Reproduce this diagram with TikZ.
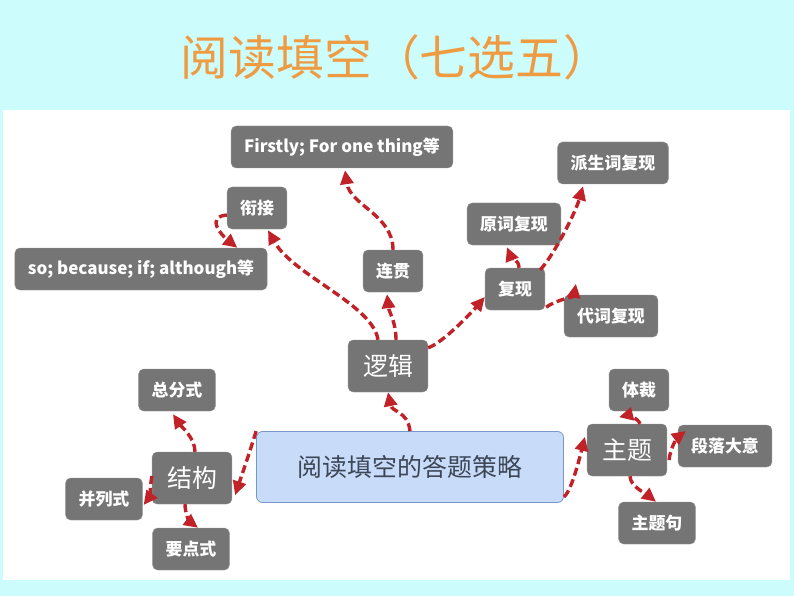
\documentclass[tikz,border=0pt]{standalone}
\usepackage{fontspec}
\setmainfont{Noto Sans CJK SC}
\definecolor{bgCyan}{RGB}{204, 252, 252}
\definecolor{titleOrange}{RGB}{239, 155, 66}
\definecolor{boxGray}{RGB}{117, 117, 117}
\definecolor{hubBlue}{RGB}{200, 220, 250}
\definecolor{hubEdge}{RGB}{120, 150, 200}
\definecolor{hubText}{RGB}{60, 70, 85}
\definecolor{linkRed}{RGB}{192, 34, 40}
\usepackage{tikz}
\usetikzlibrary{calc, arrows.meta}

\begin{document}
\begin{tikzpicture}[
    x=1bp, y=-1bp,
    title/.style={font=\fontsize{48}{48}\selectfont, text=titleOrange},
    leaf/.style={rectangle, fill=boxGray, draw=boxGray!80!white, thin,
                 rounded corners=5bp, text=white, inner xsep=13bp,
                 minimum height=42bp, font=\fontsize{17}{17}\selectfont\bfseries},
    branch/.style={leaf, inner xsep=15bp, minimum height=52bp,
                   font=\fontsize{25}{25}\selectfont},
    hub/.style={rectangle, fill=hubBlue, draw=hubEdge, thick, rounded corners=6bp,
                minimum width=307bp, minimum height=71bp, text=hubText,
                font=\fontsize{25}{25}\selectfont},
    link/.style={-{Triangle[length=14bp, width=13bp]}, draw=linkRed,
                 line width=3.4bp, dash pattern=on 8bp off 4bp},
  ]
    \useasboundingbox (0,0) rectangle (794,596);
    \fill[bgCyan] (0,0) rectangle (794,596);
    \fill[white] (3,110) rectangle (790,580);

    % Title
    \node[title] (TITLE) at (396,57) {阅读填空（七选五）};

    % Centre and main branches
    \node[hub] (CORE) at (410,467) {阅读填空的答题策略};
    \node[branch] (LOGIC) at (388,366) {逻辑};
    \node[branch] (STRUCT) at (192,478) {结构};
    \node[branch] (TOPIC) at (627,450) {主题};

    % Logic leaves
    \node[leaf] (FIRSTLY) at (342,147) {Firstly; For one thing等};
    \node[leaf] (XIANJIE) at (257,208) {衔接};
    \node[leaf] (SO_EX) at (141,269) {so; because; if; although等};
    \node[leaf] (LIANGUAN) at (393,271) {连贯};
    \node[leaf] (PAISHENG) at (613,163) {派生词复现};
    \node[leaf] (YUANCI) at (514,224) {原词复现};
    \node[leaf] (FUXIAN) at (515,289) {复现};
    \node[leaf] (DAICI) at (611,316) {代词复现};

    % Structure leaves
    \node[leaf] (ZONGFEN) at (177,390) {总分式};
    \node[leaf] (BINGLIE) at (104,499) {并列式};
    \node[leaf] (YAODIAN) at (191,549) {要点式};

    % Topic leaves
    \node[leaf] (TICAI) at (639,390) {体裁};
    \node[leaf] (DUANLUO) at (725,446) {段落大意};
    \node[leaf] (ZHUTIJU) at (657,523) {主题句};

    % Centre links
    \draw[link] (CORE.north) .. controls +(-2,-20) and +(4,20) .. (LOGIC.south);
    \draw[link] (CORE.north west) .. controls +(-6,20) and +(6,-18)
      .. ($(STRUCT.south east)+(3,-9)$);
    \draw[link] ($(CORE.south east)+(0,-6)$) .. controls +(8,-6) and +(-4,16)
      .. ($(TOPIC.north west)+(-2,13)$);

    % Logic links
    \draw[link] ($(LOGIC.north)+(-10,0)$) .. controls +(-5,-35) and +(25,45)
      .. ($(XIANJIE.south)+(11,1)$);
    \draw[link] ($(LOGIC.north)+(8,0)$) .. controls +(0,-18) and +(2,18)
      .. ($(LIANGUAN.south)+(-6,2)$);
    \draw[link] (LIANGUAN.north) .. controls +(0,-35) and +(5,35)
      .. ($(FIRSTLY.south)+(3,2)$);
    \draw[link] ($(XIANJIE.west)+(0,7)$) .. controls +(-22,2) and +(-15,-12)
      .. ($(SO_EX.north east)+(-30,0)$);
    \draw[link] ($(LOGIC.north east)+(0,8)$) .. controls +(15,-5) and +(-12,14)
      .. ($(FUXIAN.west)+(0,8)$);
    \draw[link] ($(FUXIAN.north)+(4,0)$) .. controls +(0,-8) and +(4,10)
      .. ($(YUANCI.south)+(-7,2)$);
    \draw[link] ($(FUXIAN.north east)+(-5,2)$) .. controls +(12,-12) and +(-8,28)
      .. ($(PAISHENG.south)+(-30,2)$);
    \draw[link] ($(FUXIAN.south east)+(1,-3)$) .. controls +(8,-6) and +(-2,12)
      .. ($(DAICI.north west)+(12,-11)$);

    % Structure links
    \draw[link] ($(STRUCT.north)+(3,0)$) .. controls +(0,-14) and +(8,12)
      .. ($(ZONGFEN.south)+(-4,3)$);
    \draw[link] ($(STRUCT.west)+(0,-2)$) .. controls +(-2,12) and +(6,-8)
      .. ($(BINGLIE.east)+(1,6)$);
    \draw[link] ($(STRUCT.south)+(-7,0)$) .. controls +(0,10) and +(-8,-6)
      .. ($(YAODIAN.north)+(7,0)$);

    % Topic links
    \draw[link] ($(TOPIC.north)+(13,0)$) .. controls +(-2,-6) and +(8,-2)
      .. ($(TICAI.south)+(-20,6)$);
    \draw[link] ($(TOPIC.east)+(2,10)$) .. controls +(1,-12) and +(-8,6)
      .. ($(DUANLUO.west)+(8,-15)$);
    \draw[link] ($(TOPIC.south)+(3,0)$) .. controls +(0,10) and +(-10,-8)
      .. ($(ZHUTIJU.north)+(-1,0)$);
  \end{tikzpicture}
\end{document}
